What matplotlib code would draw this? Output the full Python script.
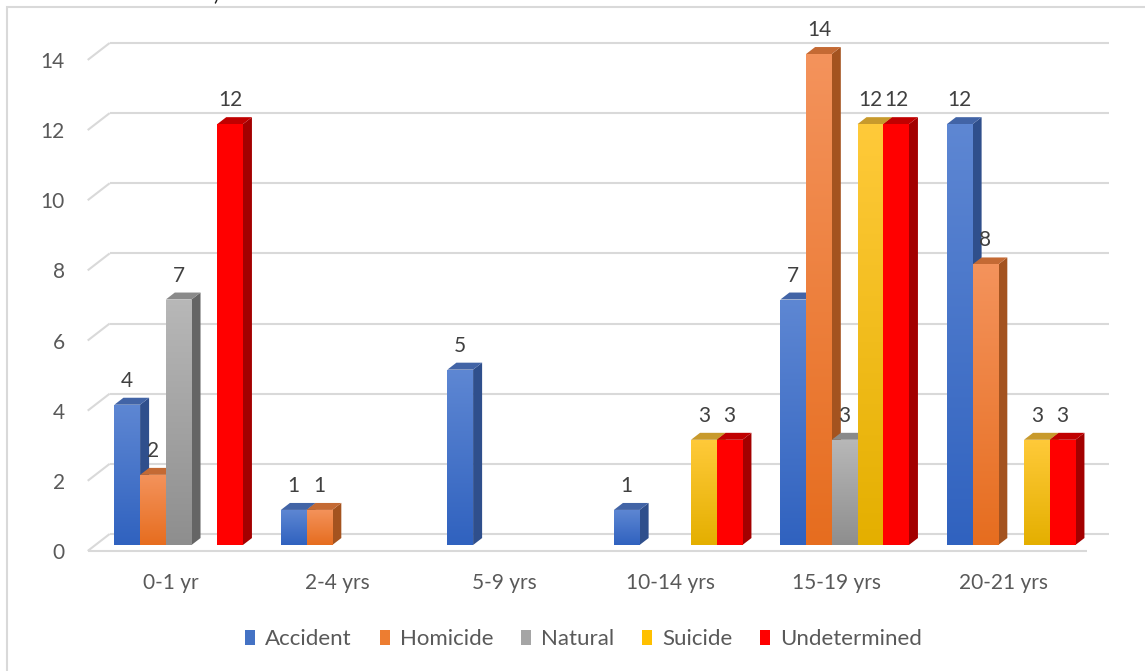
import numpy as np
import matplotlib
matplotlib.use("Agg")
import matplotlib.pyplot as plt
from matplotlib.patches import Polygon, Rectangle, Patch
from matplotlib.colors import LinearSegmentedColormap
from matplotlib.transforms import ScaledTranslation

# ---- data -------------------------------------------------------------
categories = ["0-1 yr", "2-4 yrs", "5-9 yrs", "10-14 yrs", "15-19 yrs", "20-21 yrs"]
series_names = ["Accident", "Homicide", "Natural", "Suicide", "Undetermined"]
accident = [4, 1, 5, 1, 7, 12]
homicide = [2, 1, 0, 0, 14, 8]
natural = [7, 0, 0, 0, 3, 0]
suicide = [0, 0, 0, 3, 12, 3]
undetermined = [12, 0, 0, 3, 12, 3]
y_ticks = [0, 2, 4, 6, 8, 10, 12, 14]

series_values = [accident, homicide, natural, suicide, undetermined]

# (front top, front bottom, side, top) shades for each series
palette = [
    ("#5E87D3", "#3062BF", "#2F4F8C", "#4264A6"),
    ("#F4935C", "#E66D1F", "#A4531F", "#C46A34"),
    ("#B8B8B8", "#8E8E8E", "#656565", "#8A8A8A"),
    ("#FFCA3A", "#E4AF00", "#B98C00", "#C89A2C"),
    ("#FF0000", "#FF0000", "#A30000", "#C00000"),
]
legend_colors = ["#4472C4", "#ED7D31", "#A5A5A5", "#FFC000", "#FF0000"]

plt.rcParams["font.family"] = ["Lato", "DejaVu Sans"]

W, H, DPI = 1145, 671, 100
fig = plt.figure(figsize=(W / DPI, H / DPI), dpi=DPI)
fig.patch.set_facecolor("white")

# axes area = plane of the bar fronts
left_px, right_px, base_px, top_px = 95.4, 1094.4, 545.0, 54.0
ax = fig.add_axes([left_px / W, (H - base_px) / H,
                   (right_px - left_px) / W, (base_px - top_px) / H])
ax.set_xlim(-0.5, len(categories) - 0.5)
ax.set_ylim(0, 14)
ax.patch.set_alpha(0)
for s in ax.spines.values():
    s.set_visible(False)

px_x = (right_px - left_px) / len(categories)
px_y = (base_px - top_px) / 14.0

# depth of the floor (front edge -> back wall), in data units
depth_x, depth_y = 22.0 / px_x, 17.0 / px_y
front_dx, front_dy = -0.35 * depth_x, -0.35 * depth_y
back_dx, back_dy = 0.65 * depth_x, 0.65 * depth_y
bar_dx, bar_dy = 0.41 * depth_x, 0.41 * depth_y

grid_col = "#D9D9D9"
x0_axis, x1_axis = -0.5, len(categories) - 0.5
for v in y_ticks:
    ax.plot([x0_axis + back_dx, x1_axis + back_dx], [v + back_dy, v + back_dy],
            color=grid_col, lw=1.5, zorder=0.5, clip_on=False, solid_capstyle="butt")
    ax.plot([x0_axis + front_dx, x0_axis + back_dx], [v + front_dy, v + back_dy],
            color=grid_col, lw=1.5, zorder=0.5, clip_on=False, solid_capstyle="butt")
ax.plot([x0_axis + front_dx, x1_axis + front_dx], [front_dy, front_dy],
        color=grid_col, lw=1.5, zorder=0.5, clip_on=False, solid_capstyle="butt")

# ---- bars -----------------------------------------------------------
n_ser = len(series_names)
bar_w = 0.1544
grad = np.linspace(0, 1, 256).reshape(-1, 1)

for si, (vals, cols) in enumerate(zip(series_values, palette)):
    top_c, bot_c, side_c, cap_c = cols
    cmap = LinearSegmentedColormap.from_list(f"g{si}", [bot_c, top_c])
    for gi, v in enumerate(vals):
        if v <= 0:
            continue
        xc = gi + (si - (n_ser - 1) / 2) * bar_w
        x0, x1 = xc - bar_w / 2, xc + bar_w / 2
        z = 2 + si
        bar = ax.bar(xc, v, width=bar_w, color=top_c, zorder=z, linewidth=0)[0]
        im = ax.imshow(grad, extent=[x0, x1, 0, v], origin="lower", cmap=cmap,
                       aspect="auto", interpolation="bilinear", zorder=z + 0.01)
        im.set_clip_path(bar)
        side = Polygon([(x1, 0), (x1, v), (x1 + bar_dx, v + bar_dy), (x1 + bar_dx, bar_dy)],
                       closed=True, facecolor=side_c, edgecolor="none",
                       zorder=z - 0.01, clip_on=False)
        cap = Polygon([(x0, v), (x1, v), (x1 + bar_dx, v + bar_dy), (x0 + bar_dx, v + bar_dy)],
                      closed=True, facecolor=cap_c, edgecolor="none",
                      zorder=z - 0.01, clip_on=False)
        ax.add_patch(side)
        ax.add_patch(cap)
        ax.annotate(str(v), xy=(xc, v), xytext=(0, 24 * 0.72), textcoords="offset points",
                    ha="center", va="center", fontsize=15, color="#404040",
                    zorder=20, annotation_clip=False)

ax.set_xlim(-0.5, len(categories) - 0.5)
ax.set_ylim(0, 14)

# ---- axes labels ----------------------------------------------------
ax.set_xticks(range(len(categories)), categories)
ax.set_yticks(y_ticks, [str(t) for t in y_ticks])
ax.tick_params(axis="both", length=0, labelsize=15, labelcolor="#595959")
ax.tick_params(axis="x", pad=20.5)
ax.tick_params(axis="y", pad=21.9)
shift_x = ScaledTranslation(front_dx * px_x / DPI, 0, fig.dpi_scale_trans)
shift_y = ScaledTranslation(0, front_dy * px_y / DPI, fig.dpi_scale_trans)
for lab in ax.get_xticklabels():
    lab.set_transform(lab.get_transform() + shift_x)
for lab in ax.get_yticklabels():
    lab.set_transform(lab.get_transform() + shift_y)

# ---- legend ---------------------------------------------------------
handles = [Patch(facecolor=c, edgecolor="none", label=n)
           for n, c in zip(series_names, legend_colors)]
fig.legend(handles=handles, loc="center", bbox_to_anchor=(0.5096, (H - 639) / H),
           ncol=5, frameon=False, fontsize=16, handlelength=0.45, handleheight=0.65,
           handletextpad=0.45, columnspacing=1.25, labelcolor="#595959")

# ---- chart frame ----------------------------------------------------
fig.add_artist(Rectangle((7 / W, -0.1), 1.2, (H - 7) / H + 0.1, transform=fig.transFigure,
                         fill=False, edgecolor="#D9D9D9", lw=1.5))
fig.text(216 / W, 1 + 6 / H, ")", ha="center", va="center", fontsize=14, color="#222222")

fig.savefig("out.png", dpi=DPI)
